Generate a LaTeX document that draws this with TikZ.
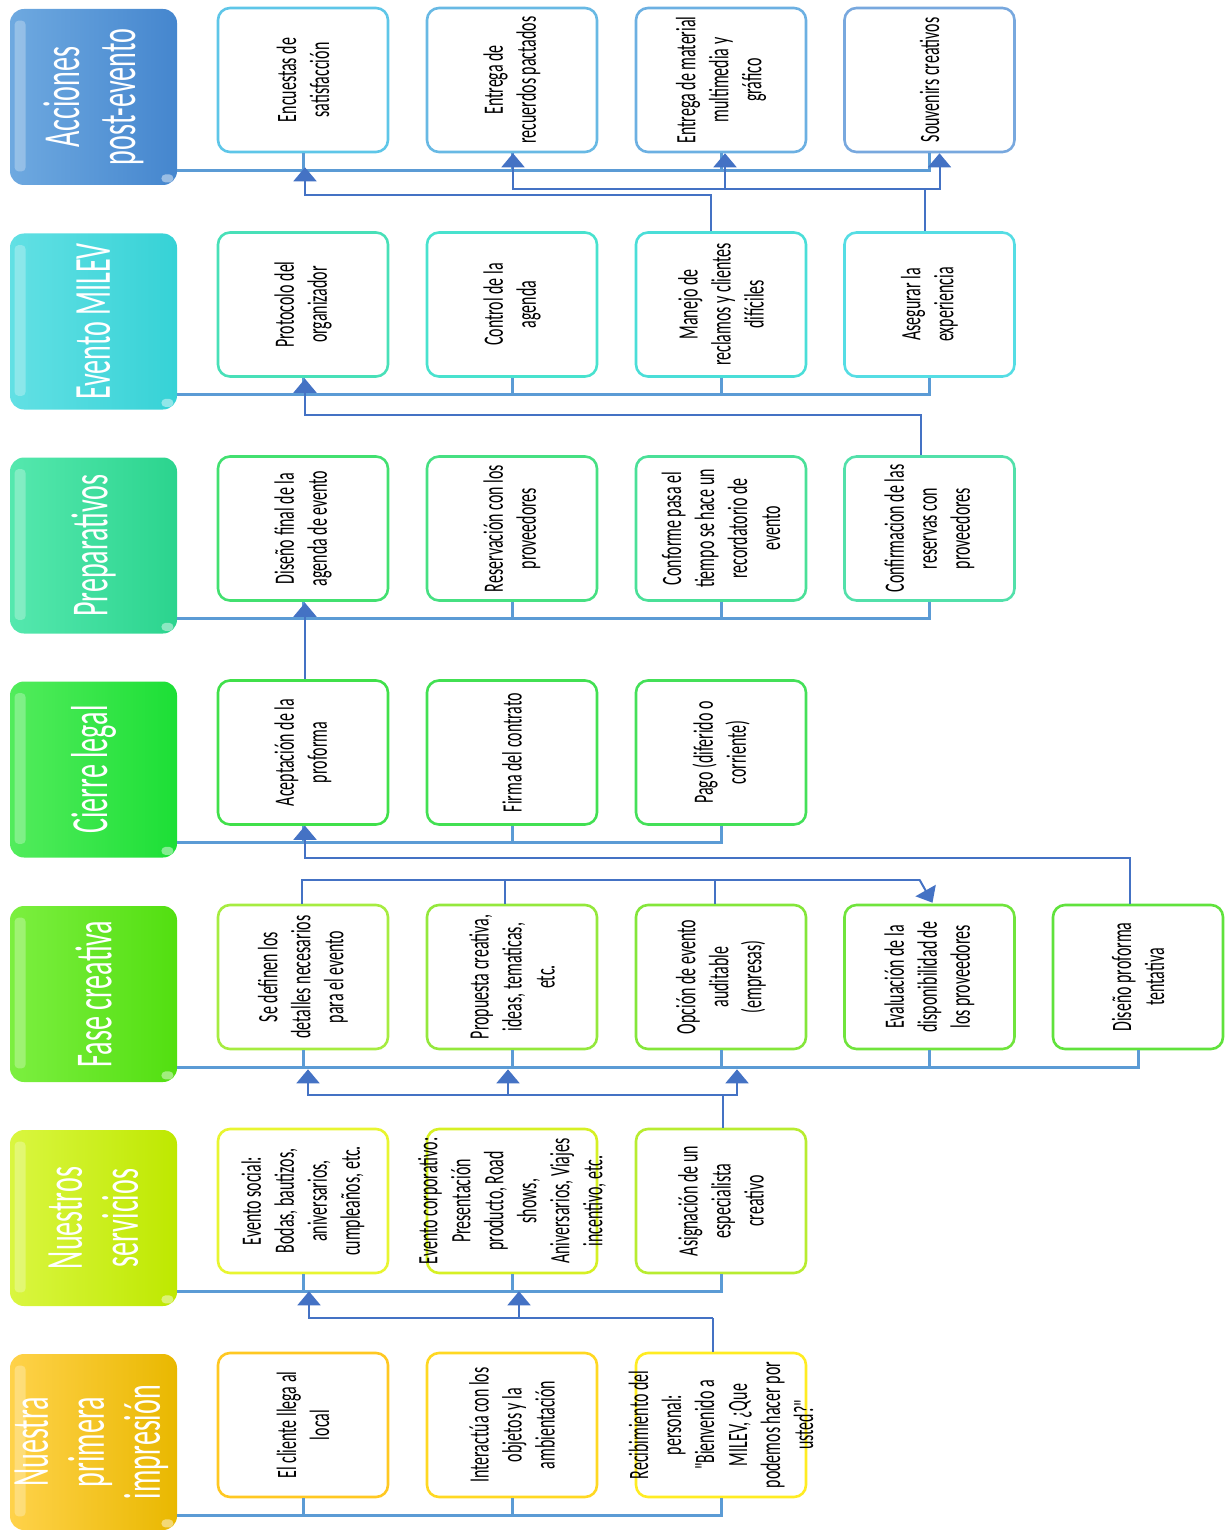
\documentclass[tikz,border=0pt]{standalone}
\usepackage{fontspec}
\setmainfont{Carlito}
\newfontfamily\condf[FakeStretch=0.57]{Carlito}
\newfontfamily\hdrf[FakeStretch=0.54]{Carlito}
\usetikzlibrary{arrows.meta,calc}
\definecolor{busc}{HTML}{5B9BD5}
\definecolor{arrc}{HTML}{4472C4}
% header colours
\definecolor{hAl}{HTML}{6EA9E0}\definecolor{hAr}{HTML}{4586CE}
\definecolor{hBl}{HTML}{62E0E4}\definecolor{hBr}{HTML}{36D2D6}
\definecolor{hCl}{HTML}{55E8AE}\definecolor{hCr}{HTML}{2BD48E}
\definecolor{hDl}{HTML}{52EC5C}\definecolor{hDr}{HTML}{1CDF36}
\definecolor{hEl}{HTML}{7CEF40}\definecolor{hEr}{HTML}{52DF10}
\definecolor{hFl}{HTML}{DAF640}\definecolor{hFr}{HTML}{BEE800}
\definecolor{hGl}{HTML}{FFD24A}\definecolor{hGr}{HTML}{E9B800}
% border colours
\definecolor{c11}{HTML}{5EC6E8}\definecolor{c12}{HTML}{68B9E4}\definecolor{c13}{HTML}{6CB0E2}\definecolor{c14}{HTML}{78A8DE}
\definecolor{c21}{HTML}{48E0B8}\definecolor{c22}{HTML}{48E2CE}\definecolor{c23}{HTML}{4ADED8}\definecolor{c24}{HTML}{55DDE4}
\definecolor{c31}{HTML}{42E070}\definecolor{c32}{HTML}{46E082}\definecolor{c33}{HTML}{4AE098}\definecolor{c34}{HTML}{52E0AA}
\definecolor{c41}{HTML}{40E04A}\definecolor{c42}{HTML}{42E052}\definecolor{c43}{HTML}{44E058}
\definecolor{c51}{HTML}{A6EC40}\definecolor{c52}{HTML}{94E83C}\definecolor{c53}{HTML}{84E63A}\definecolor{c54}{HTML}{70E43C}\definecolor{c55}{HTML}{60E23C}
\definecolor{c61}{HTML}{E8F530}\definecolor{c62}{HTML}{D6F024}\definecolor{c63}{HTML}{B8EC30}
\definecolor{c71}{HTML}{FFC822}\definecolor{c72}{HTML}{FFD822}\definecolor{c73}{HTML}{FFEC22}
\tikzset{
  wbox/.style={draw=#1, line width=1.3pt, rounded corners=6pt, fill=white,
    minimum width=85pt, minimum height=72pt, inner sep=0pt},
  btxt/.style={rotate=90, align=center, inner sep=0pt, text=black,
    font=\condf\fontsize{14}{16.5}\selectfont},
  hdrbox/.style 2 args={rounded corners=7pt, left color=#1, right color=#2,
    minimum width=83.5pt, minimum height=88pt, inner sep=0pt},
  htxt/.style={rotate=90, align=center, inner sep=0pt, text=white,
    font=\hdrf\fontsize{26}{28}\selectfont},
  bus/.style={draw=busc, line width=1.5pt},
  conn/.style={draw=arrc, line width=1pt},
  arr/.style={conn, -{Triangle[width=11.5pt,length=7pt]}},
}
\newcommand{\gloss}[1]{%
  \fill[white, opacity=0.28, rounded corners=2pt] ($(#1.north west)+(5,12)$) rectangle ($(#1.south west)+(16,-14)$);
  \fill[white, opacity=0.45, rounded corners=2pt] ($(#1.south east)+(-16,-11)$) rectangle ($(#1.south east)+(-4,-3)$);}
\begin{document}
\begin{tikzpicture}[x=0.5pt,y=-0.5pt]
\useasboundingbox (0,0) rectangle (1231,1530);
% ---------------- headers ----------------
\node[hdrbox={hAl}{hAr}] (h1) at (93.5,97) {};
\node[hdrbox={hBl}{hBr}] (h2) at (93.5,321.5) {};
\node[hdrbox={hCl}{hCr}] (h3) at (93.5,545.5) {};
\node[hdrbox={hDl}{hDr}] (h4) at (93.5,769.5) {};
\node[hdrbox={hEl}{hEr}] (h5) at (93.5,994) {};
\node[hdrbox={hFl}{hFr}] (h6) at (93.5,1218) {};
\node[hdrbox={hGl}{hGr}] (h7) at (93.5,1442) {};
\gloss{h1}\gloss{h2}\gloss{h3}\gloss{h4}\gloss{h5}\gloss{h6}\gloss{h7}
\node[htxt] (ht1) at (h1) {Acciones\\post-evento};
\node[htxt] (ht2) at (h2) {Evento MILEV};
\node[htxt] (ht3) at (h3) {Preparativos};
\node[htxt] (ht4) at (h4) {Cierre legal};
\node[htxt] (ht5) at (h5) {Fase creativa};
\node[htxt] (ht6) at (h6) {Nuestros\\servicios};
\node[htxt] (ht7) at ($(h7)+(-2,0)$) {Nuestra\\primera\\impresión};
% ---------------- boxes ----------------
% row 1
\node[wbox=c11] (b11) at (303,80) {};
\node[wbox=c12] (b12) at (512,80) {};
\node[wbox=c13] (b13) at (721,80) {};
\node[wbox=c14] (b14) at (929.5,80) {};
% row 2
\node[wbox=c21] (b21) at (303,304.5) {};
\node[wbox=c22] (b22) at (512,304.5) {};
\node[wbox=c23] (b23) at (721,304.5) {};
\node[wbox=c24] (b24) at (929.5,304.5) {};
% row 3
\node[wbox=c31] (b31) at (303,528.5) {};
\node[wbox=c32] (b32) at (512,528.5) {};
\node[wbox=c33] (b33) at (721,528.5) {};
\node[wbox=c34] (b34) at (929.5,528.5) {};
% row 4
\node[wbox=c41] (b41) at (303,752.5) {};
\node[wbox=c42] (b42) at (512,752.5) {};
\node[wbox=c43] (b43) at (721,752.5) {};
% row 5
\node[wbox=c51] (b51) at (303,977) {};
\node[wbox=c52] (b52) at (512,977) {};
\node[wbox=c53] (b53) at (721,977) {};
\node[wbox=c54] (b54) at (929.5,977) {};
\node[wbox=c55] (b55) at (1138,977) {};
% row 6
\node[wbox=c61] (b61) at (303,1201) {};
\node[wbox=c62] (b62) at (512,1201) {};
\node[wbox=c63] (b63) at (721,1201) {};
% row 7
\node[wbox=c71] (b71) at (303,1425) {};
\node[wbox=c72] (b72) at (512,1425) {};
\node[wbox=c73] (b73) at (721,1425) {};
% ---------------- texts ----------------
\node[btxt] (t11) at (b11) {Encuestas de\\satisfacción};
\node[btxt] (t12) at (b12) {Entrega de\\recuerdos pactados};
\node[btxt] (t13) at (b13) {Entrega de material\\multimedia y\\gráfico};
\node[btxt] (t14) at (b14) {Souvenirs creativos};
\node[btxt] (t21) at (b21) {Protocolo del\\organizador};
\node[btxt] (t22) at (b22) {Control de la\\agenda};
\node[btxt] (t23) at (b23) {Manejo de\\reclamos y clientes\\difíciles};
\node[btxt] (t24) at (b24) {Asegurar la\\experiencia};
\node[btxt] (t31) at (b31) {Diseño final de la\\agenda de evento};
\node[btxt] (t32) at (b32) {Reservación con los\\proveedores};
\node[btxt] (t33) at (b33) {Conforme pasa el\\tiempo se hace un\\recordatorio de\\evento};
\node[btxt] (t34) at (b34) {Confirmacion de las\\reservas con\\proveedores};
\node[btxt] (t41) at (b41) {Aceptación de la\\proforma};
\node[btxt] (t42) at (b42) {Firma del contrato};
\node[btxt] (t43) at (b43) {Pago (diferido o\\corriente)};
\node[btxt] (t51) at (b51) {Se definen los\\detalles necesarios\\para el evento};
\node[btxt] (t52) at (b52) {Propuesta creativa,\\ideas, tematicas,\\etc.};
\node[btxt] (t53) at (b53) {Opción de evento\\auditable\\(empresas)};
\node[btxt] (t54) at (b54) {Evaluación de la\\disponibilidad de\\los proveedores};
\node[btxt] (t55) at (b55) {Diseño proforma\\tentativa};
\node[btxt] (t61) at (b61) {Evento social:\\Bodas, bautizos,\\aniversarios,\\cumpleaños, etc.};
\node[btxt] (t62) at (b62) {Evento corporativo:\\Presentación\\producto, Road\\shows,\\Aniversarios, Viajes\\incentivo, etc.};
\node[btxt] (t63) at (b63) {Asignación de un\\especialista\\creativo};
\node[btxt] (t71) at (b71) {El cliente llega al\\local};
\node[btxt] (t72) at (b72) {Interactúa con los\\objetos y la\\ambientación};
\node[btxt] (t73) at (b73) {Recibimiento del\\personal:\\"Bienvenido a\\MILEV, ¿Que\\podemos hacer por\\usted?"};
% ---------------- buses ----------------
\draw[bus] ($(h1.south east)+(0,-15)$) -| (b14.south);
\foreach \b in {b11,b12,b13} \draw[bus] (\b.south) -- ++(0,17);
\draw[bus] ($(h2.south east)+(0,-15)$) -| (b24.south);
\foreach \b in {b21,b22,b23} \draw[bus] (\b.south) -- ++(0,17);
\draw[bus] ($(h3.south east)+(0,-15)$) -| (b34.south);
\foreach \b in {b31,b32,b33} \draw[bus] (\b.south) -- ++(0,17);
\draw[bus] ($(h4.south east)+(0,-15)$) -| (b43.south);
\foreach \b in {b41,b42} \draw[bus] (\b.south) -- ++(0,17);
\draw[bus] ($(h5.south east)+(0,-15)$) -| (b55.south);
\foreach \b in {b51,b52,b53,b54} \draw[bus] (\b.south) -- ++(0,17);
\draw[bus] ($(h6.south east)+(0,-15)$) -| (b63.south);
\foreach \b in {b61,b62} \draw[bus] (\b.south) -- ++(0,17);
\draw[bus] ($(h7.south east)+(0,-15)$) -| (b73.south);
\foreach \b in {b71,b72} \draw[bus] (\b.south) -- ++(0,17);
% ---------------- connectors ----------------
% row 2 -> row 1
\draw[arr] ($(b23.north)+(-10,0)$) -- ++(0,-36) -| ($(b11.south)+(2,14)$);
\coordinate (j2) at ($(b24.north)+(-5,-42)$);
\draw[conn] ($(b24.north)+(-5,0)$) -- (j2);
\draw[arr] (j2) -| ($(b12.south)+(1,0)$);
\draw[arr] (j2) -| ($(b13.south)+(4,0)$);
\draw[arr] (j2) -| ($(b14.south)+(10,0)$);
% row 3 -> row 2
\draw[arr] ($(b34.north)+(-9,0)$) -- ++(0,-40) -| ($(b21.south)+(2,1)$);
% row 4 -> row 3
\draw[arr] ($(b41.north)+(2,0)$) -- ($(b31.south)+(2,1)$);
% row 5 -> row 4
\draw[arr] ($(b55.north)+(-8,0)$) -- ++(0,-46) -| ($(b41.south)+(2,0)$);
% row 5 internal
\coordinate (j5) at ($(b54.north)+(-10,-24)$);
\draw[conn] ($(b51.north)+(-1,0)$) |- (j5);
\draw[arr] (j5) -- ($(b54.north)+(3,-1)$);
\draw[conn] ($(b52.north)+(-7,0)$) -- ($(b52.north)+(-7,-24)$);
\draw[conn] ($(b53.north)+(-6,0)$) -- ($(b53.north)+(-6,-24)$);
% row 6 -> row 5
\coordinate (j6) at ($(b63.north)+(2,-33)$);
\draw[conn] ($(b63.north)+(2,0)$) -- (j6);
\draw[arr] (j6) -| ($(b51.south)+(5,19)$);
\draw[arr] (j6) -| ($(b52.south)+(-4,19)$);
\draw[arr] (j6) -| ($(b53.south)+(16,19)$);
% row 7 -> row 6
\coordinate (j7) at ($(b73.north)+(-8,-34)$);
\draw[conn] ($(b73.north)+(-8,0)$) -- (j7);
\draw[arr] (j7) -| ($(b61.south)+(6,17)$);
\draw[arr] (j7) -| ($(b62.south)+(7,17)$);
\end{tikzpicture}
\end{document}
